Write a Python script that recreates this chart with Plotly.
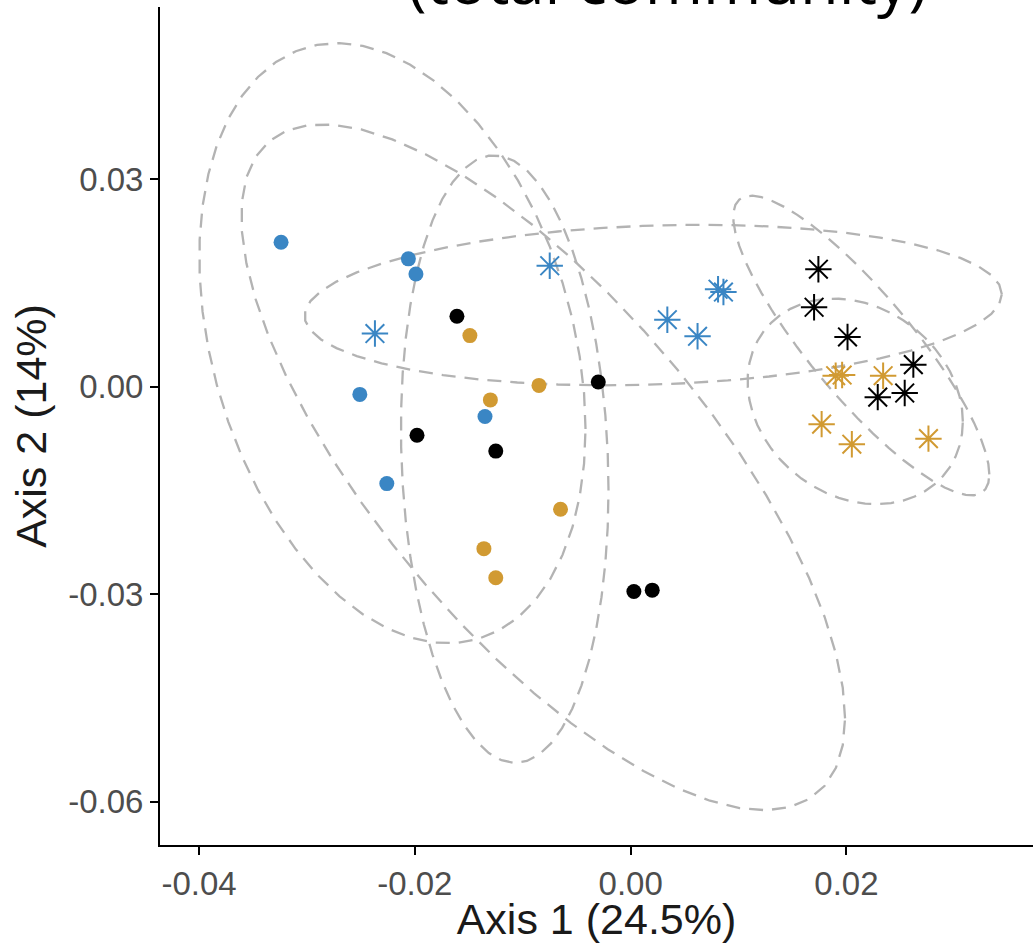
import numpy as np
import plotly.graph_objects as go

# ---- data ----
blue_circle_x = [-0.0324, -0.0206, -0.0199, -0.0251, -0.0135, -0.0226]
blue_circle_y = [0.0209, 0.0185, 0.0163, -0.0011, -0.0043, -0.0140]
blue_star_x = [-0.0237, -0.0075, 0.0034, 0.0062, 0.0081, 0.0086]
blue_star_y = [0.0077, 0.0175, 0.0097, 0.0073, 0.0141, 0.0137]
black_circle_x = [-0.0161, -0.0030, -0.0198, -0.0125, 0.0003, 0.0020]
black_circle_y = [0.0102, 0.0007, -0.0070, -0.0093, -0.0296, -0.0294]
black_star_x = [0.0174, 0.0170, 0.0201, 0.0262, 0.0229, 0.0254]
black_star_y = [0.0170, 0.0115, 0.0072, 0.0032, -0.0015, -0.0009]
orange_circle_x = [-0.0149, -0.0085, -0.0130, -0.0065, -0.0136, -0.0125]
orange_circle_y = [0.0074, 0.0002, -0.0019, -0.0177, -0.0234, -0.0276]
orange_star_x = [0.0190, 0.0196, 0.0234, 0.0177, 0.0205, 0.0276]
orange_star_y = [0.0016, 0.0017, 0.0016, -0.0054, -0.0083, -0.0075]

x_ticks = [-0.04, -0.02, 0.00, 0.02]
x_tick_labels = ["-0.04", "-0.02", "0.00", "0.02"]
y_ticks = [-0.06, -0.03, 0.00, 0.03]
y_tick_labels = ["-0.06", "-0.03", "0.00", "0.03"]

BLUE = "#3a86c4"
ORANGE = "#d19a32"
BLACK = "#000000"

groups = [
    (blue_circle_x, blue_circle_y, BLUE, "circle"),
    (blue_star_x, blue_star_y, BLUE, "asterisk-open"),
    (black_circle_x, black_circle_y, BLACK, "circle"),
    (black_star_x, black_star_y, BLACK, "asterisk-open"),
    (orange_circle_x, orange_circle_y, ORANGE, "circle"),
    (orange_star_x, orange_star_y, ORANGE, "asterisk-open"),
]


def cov_trob(X, nu=5, maxit=25, tol=0.01):
    n, p = X.shape
    wt = np.ones(n)
    loc = (wt[:, None] * X).sum(0) / wt.sum()
    w = np.sqrt(wt)
    Xc = X - loc
    for _ in range(maxit):
        w0 = w
        Xc = X - loc
        A = np.sqrt(w / w.sum())[:, None] * Xc
        _, d, Vt = np.linalg.svd(A, full_matrices=False)
        wX = Xc @ Vt.T @ np.diag(1.0 / d)
        Q = (wX ** 2).sum(1)
        w = (wt * (nu + p)) / (nu + Q)
        loc = (w[:, None] * X).sum(0) / w.sum()
        if np.all(np.abs(w - w0) < tol):
            break
    cov = (np.sqrt(w)[:, None] * Xc).T @ (np.sqrt(w)[:, None] * Xc) / wt.sum()
    return loc, cov


def ellipse(xs, ys, level=0.95, segments=51):
    X = np.column_stack([xs, ys])
    n = len(xs)
    center, shape = cov_trob(X)
    dfd = n - 1
    qf = dfd / 2.0 * ((1 - level) ** (-2.0 / dfd) - 1)  # F(2, dfd) quantile
    radius = np.sqrt(2 * qf)
    ang = np.arange(segments + 1) * 2 * np.pi / segments
    circ = np.column_stack([np.cos(ang), np.sin(ang)])
    L = np.linalg.cholesky(shape)
    pts = center + radius * (circ @ L.T)
    return pts[:, 0], pts[:, 1]


fig = go.Figure()

for xs, ys, col, sym in groups:
    ex, ey = ellipse(np.array(xs), np.array(ys))
    fig.add_trace(go.Scatter(
        x=ex, y=ey, mode="lines", hoverinfo="skip",
        line=dict(color="#b3b3b3", width=2.3, dash="14px,9px"),
        showlegend=False,
    ))

for xs, ys, col, sym in groups:
    if sym == "circle":
        marker = dict(symbol="circle", size=15, color=col, line=dict(width=0))
    else:
        marker = dict(symbol="asterisk-open", size=22, color=col,
                      line=dict(color=col, width=2))
    fig.add_trace(go.Scatter(x=xs, y=ys, mode="markers", marker=marker,
                             showlegend=False))

fig.update_layout(
    width=1033, height=943,
    margin=dict(l=160, r=0, t=7, b=98),
    paper_bgcolor="white", plot_bgcolor="white",
    font=dict(family="Liberation Sans, Arial, sans-serif", color="#000"),
    xaxis=dict(
        range=[-0.04362, 0.03729], showgrid=False, zeroline=False,
        showline=True, linecolor="black", linewidth=2,
        ticks="outside", ticklen=8, tickwidth=2, tickcolor="black",
        tickvals=x_ticks, ticktext=x_tick_labels,
        tickfont=dict(size=33, color="#4d4d4d"),
        title=dict(text="Axis 1 (24.5%)", font=dict(size=43, color="#1a1a1a"), standoff=4),
    ),
    yaxis=dict(
        range=[-0.06625, 0.05491], showgrid=False, zeroline=False,
        showline=True, linecolor="black", linewidth=2,
        ticks="outside", ticklen=8, tickwidth=2, tickcolor="black",
        tickvals=y_ticks, ticktext=y_tick_labels,
        tickfont=dict(size=33, color="#4d4d4d"),
        title=dict(text="Axis 2 (14%)", font=dict(size=43, color="#1a1a1a"), standoff=8),
    ),
    annotations=[dict(
        text="(total community)", xref="paper", yref="paper",
        x=(667 - 160) / 873, y=1, xanchor="center", yanchor="middle",
        yshift=28, showarrow=False,
        font=dict(family="Open Sans, sans-serif", size=63, color="#000"),
    )],
)

fig.write_html("out.html")
